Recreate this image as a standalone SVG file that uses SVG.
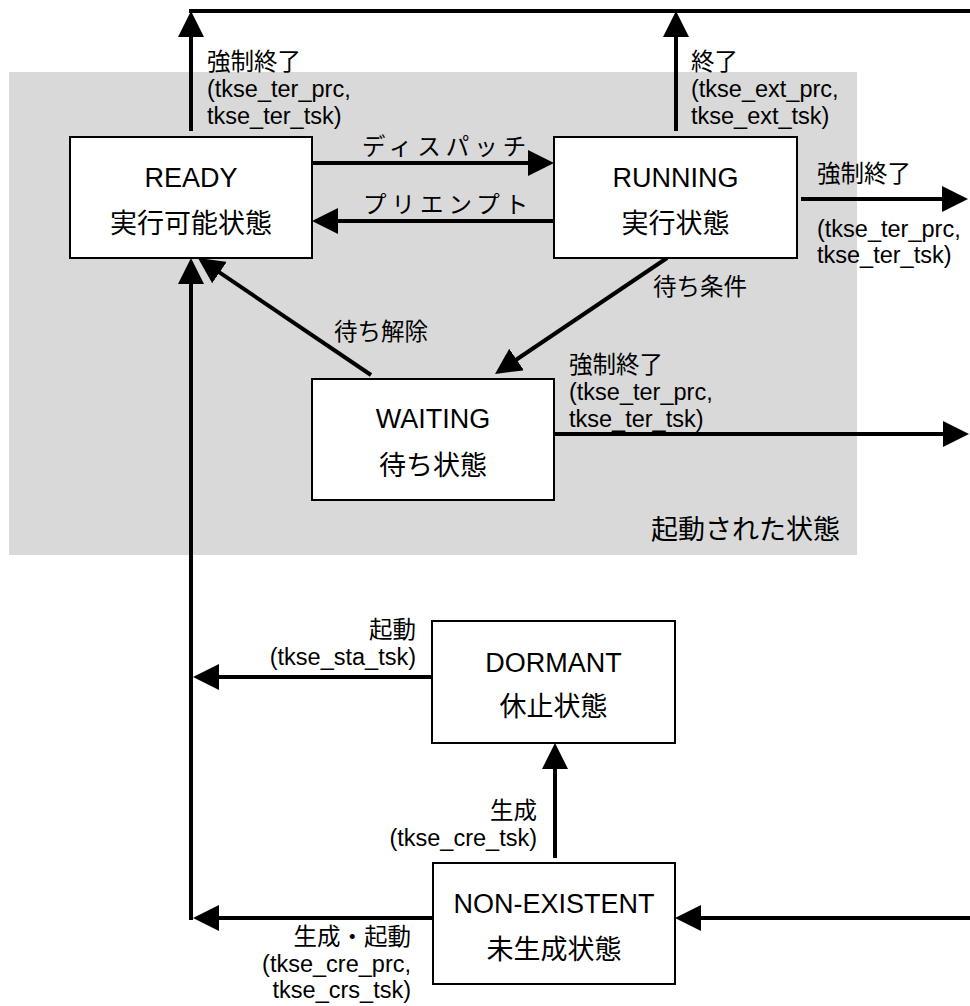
<svg xmlns="http://www.w3.org/2000/svg" width="970" height="1006" viewBox="0 0 970 1006">
<style>
text{font-family:"Liberation Sans","Noto Sans CJK JP",sans-serif;fill:#000}
.n{font-size:27px;text-anchor:middle}
.l{font-size:23.5px}
.r{text-anchor:end}
.k{letter-spacing:5px}
.box{fill:#fff;stroke:#000;stroke-width:2}
.c{stroke:#000;stroke-width:4;fill:none}
.a{marker-end:url(#ah)}
</style>
<defs>
<marker id="ah" markerUnits="userSpaceOnUse" markerWidth="26" markerHeight="26" refX="22" refY="13" orient="auto" viewBox="0 0 26 26">
<path d="M0,0 L26,13 L0,26 z" fill="#000"/>
</marker>
</defs>
<rect id="started-region" x="9" y="72" width="848" height="483" fill="#d9d9d9"/>
<text class="l" x="840" y="539" style="font-size:27px;text-anchor:end">起動された状態</text>

<g id="connectors">
<line class="c" x1="189" y1="11" x2="970" y2="11"/>
<line class="c a" x1="191" y1="131" x2="191" y2="15"/>
<line class="c a" x1="676" y1="131" x2="676" y2="15"/>
<line class="c a" x1="312" y1="163" x2="550" y2="163"/>
<line class="c a" x1="554" y1="221" x2="316" y2="221"/>
<line class="c a" x1="801" y1="199" x2="964" y2="199"/>
<line class="c a" x1="667" y1="258" x2="498.3" y2="371.8"/>
<line class="c a" x1="371" y1="375" x2="201.3" y2="260.2"/>
<line class="c a" x1="554" y1="434" x2="965" y2="434"/>
<line class="c a" x1="191" y1="920" x2="191" y2="262"/>
<line class="c a" x1="432" y1="677" x2="197" y2="677"/>
<line class="c a" x1="433" y1="918" x2="197" y2="918"/>
<line class="c a" x1="555" y1="858" x2="555" y2="747"/>
<line class="c a" x1="970" y1="918" x2="679" y2="918"/>

<text class="l" x="207" y="70">強制終了</text>
<text class="l" x="207" y="97">(tkse_ter_prc,</text>
<text class="l" x="207" y="124">tkse_ter_tsk)</text>

<text class="l" x="691" y="70">終了</text>
<text class="l" x="691" y="97">(tkse_ext_prc,</text>
<text class="l" x="691" y="124">tkse_ext_tsk)</text>

<text class="l k" x="362" y="155">ディスパッチ</text>
<text class="l k" x="363" y="213">プリエンプト</text>

<text class="l" x="817" y="182">強制終了</text>
<text class="l" x="817" y="237">(tkse_ter_prc,</text>
<text class="l" x="817" y="263">tkse_ter_tsk)</text>

<text class="l" x="653" y="295">待ち条件</text>
<text class="l" x="334" y="340">待ち解除</text>

<text class="l" x="569" y="373">強制終了</text>
<text class="l" x="569" y="400">(tkse_ter_prc,</text>
<text class="l" x="569" y="427">tkse_ter_tsk)</text>

<text class="l r" x="416" y="638">起動</text>
<text class="l r" x="416" y="665">(tkse_sta_tsk)</text>

<text class="l r" x="537" y="819">生成</text>
<text class="l r" x="537" y="846">(tkse_cre_tsk)</text>

<text class="l r" x="411" y="945">生成・起動</text>
<text class="l r" x="411" y="972">(tkse_cre_prc,</text>
<text class="l r" x="411" y="998">tkse_crs_tsk)</text>
</g>

<g id="ready">
<rect class="box" x="70" y="137" width="242" height="121"/>
<text class="n" x="191" y="187">READY</text>
<text class="n" x="191" y="233">実行可能状態</text>
</g>
<g id="running">
<rect class="box" x="554" y="137" width="243" height="121"/>
<text class="n" x="675.5" y="187">RUNNING</text>
<text class="n" x="675.5" y="233">実行状態</text>
</g>
<g id="waiting">
<rect class="box" x="312" y="379" width="242" height="121"/>
<text class="n" x="433" y="428">WAITING</text>
<text class="n" x="433" y="475">待ち状態</text>
</g>
<g id="dormant">
<rect class="box" x="432" y="621" width="243" height="122"/>
<text class="n" x="553.5" y="672">DORMANT</text>
<text class="n" x="553.5" y="716">休止状態</text>
</g>
<g id="non-existent">
<rect class="box" x="433" y="863" width="242" height="121"/>
<text class="n" x="554" y="913">NON-EXISTENT</text>
<text class="n" x="554" y="959">未生成状態</text>
</g>
</svg>
